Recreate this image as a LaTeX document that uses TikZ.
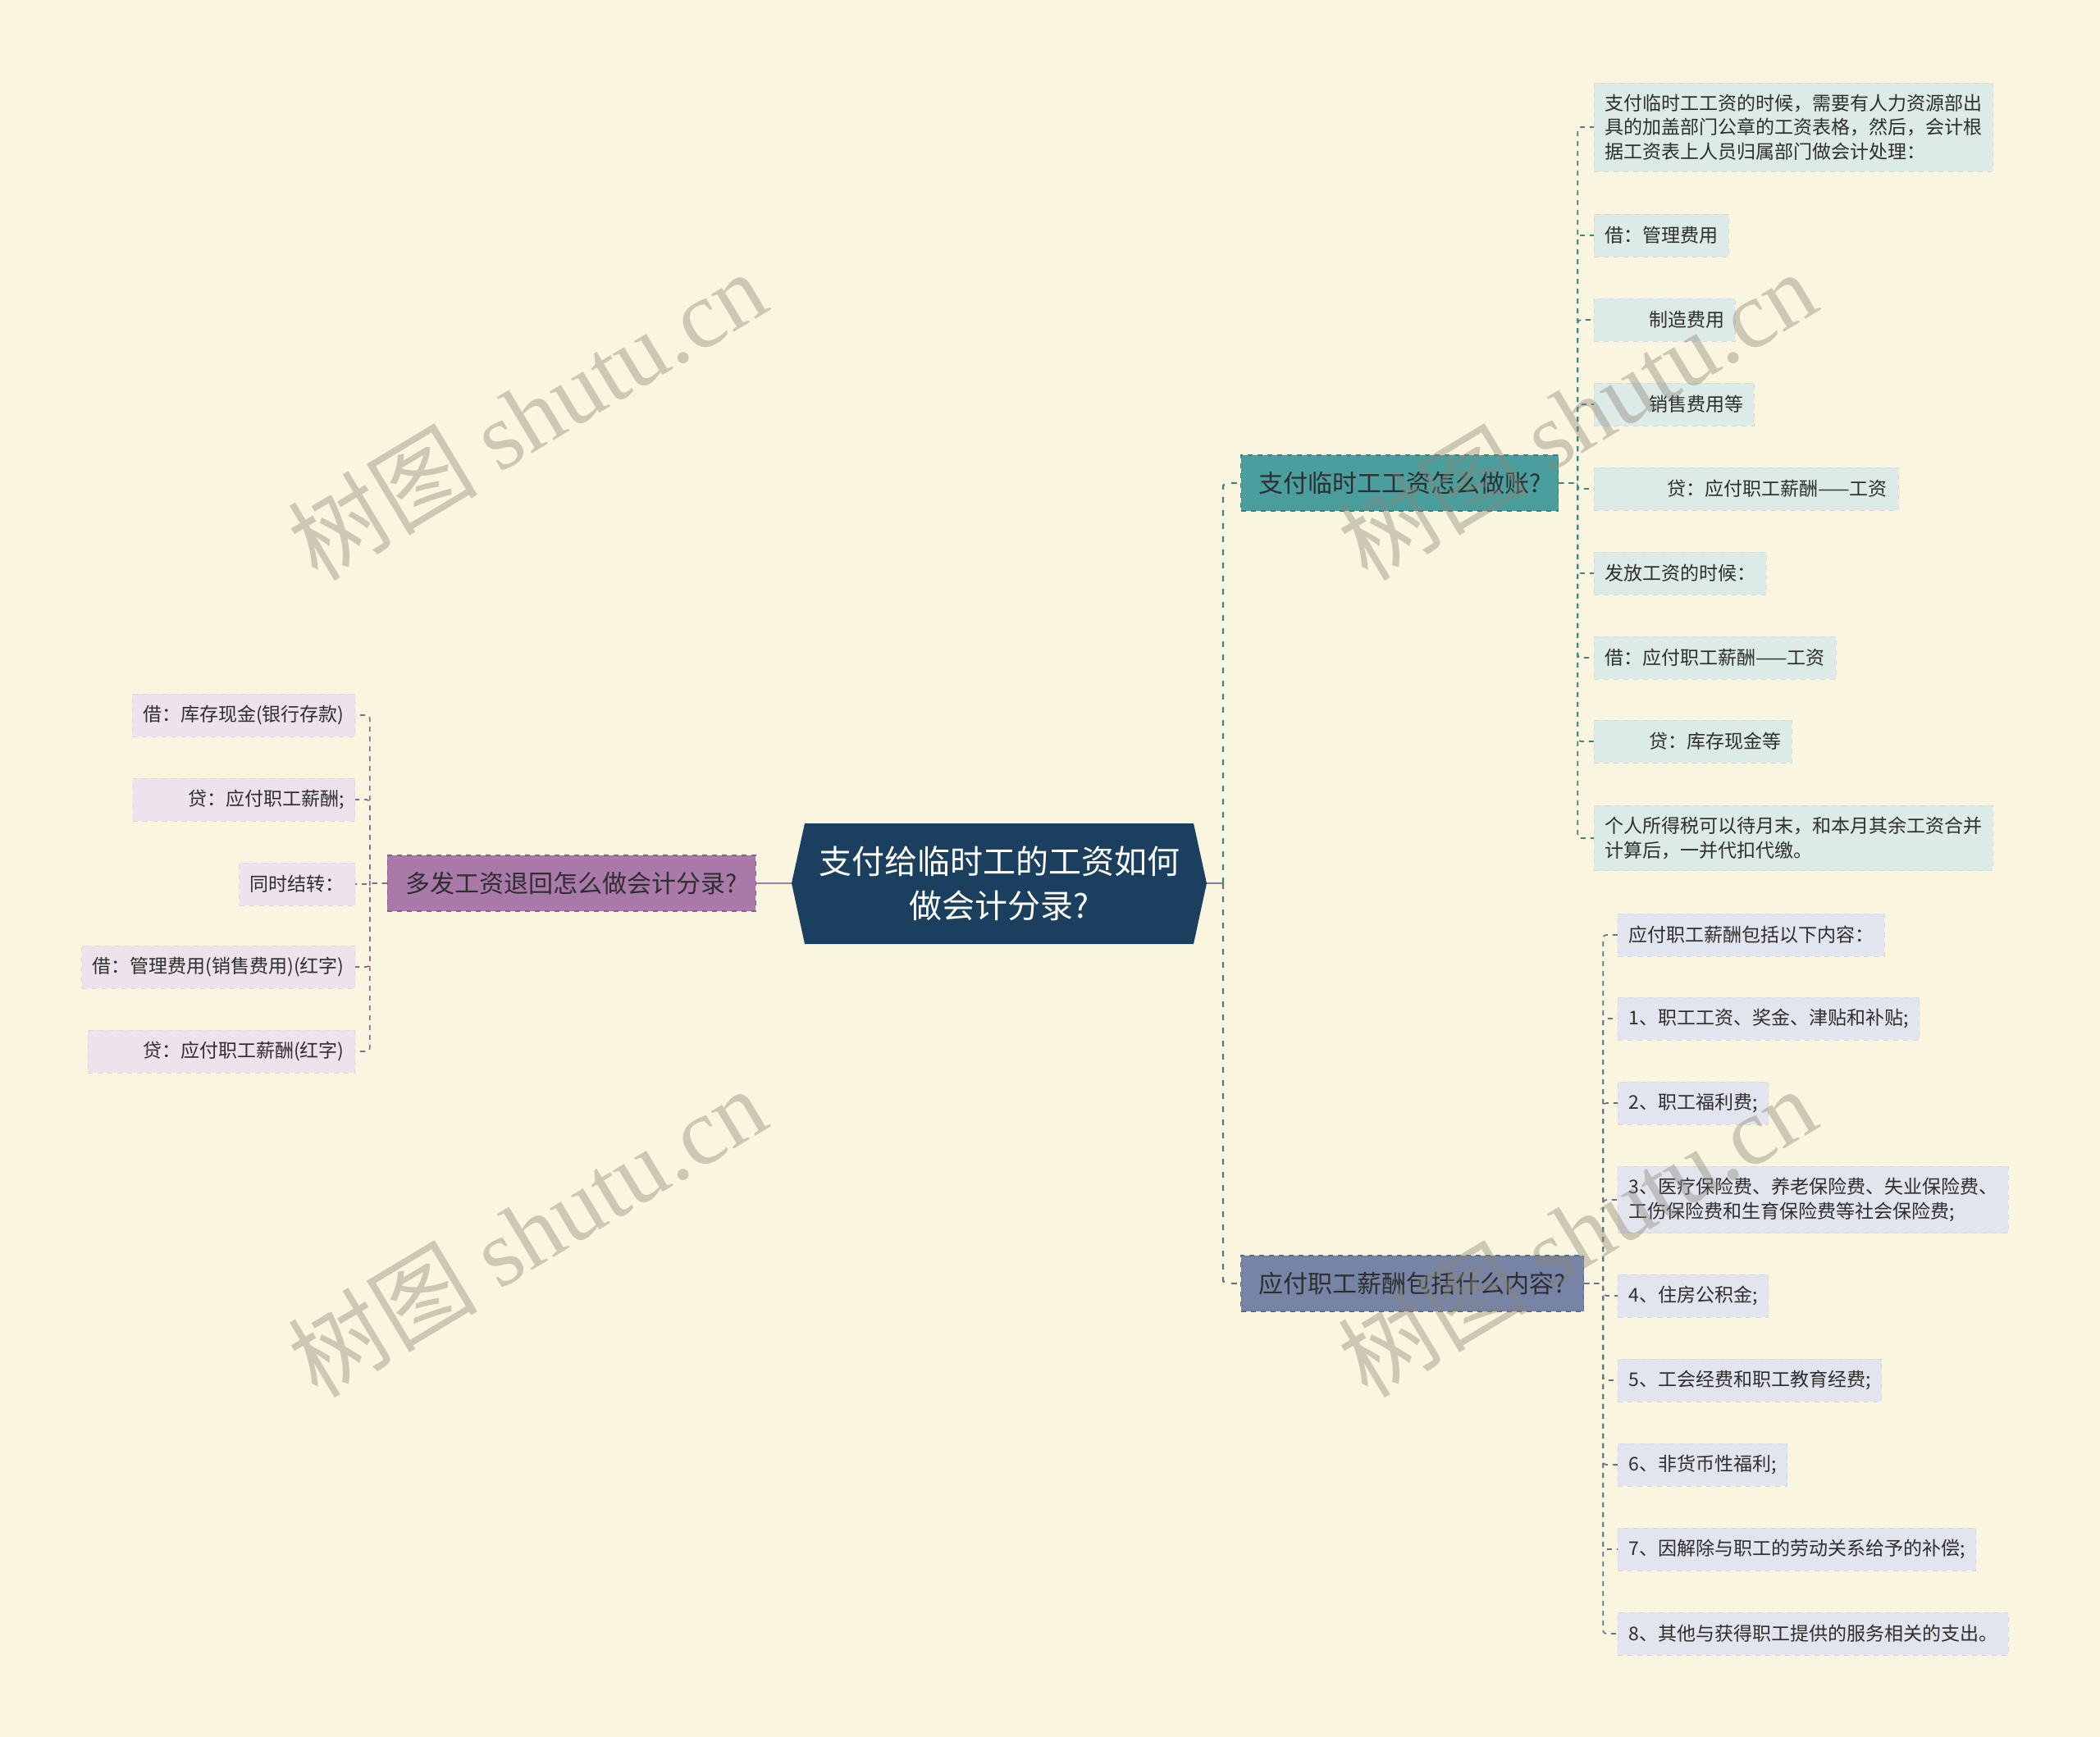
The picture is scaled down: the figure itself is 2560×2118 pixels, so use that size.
\documentclass[tikz,border=0pt]{standalone}
\usepackage{fontspec}
\setmainfont{Noto Sans CJK SC}
\newfontfamily\markfont{Liberation Serif}
\usetikzlibrary{positioning}

\definecolor{bgcream}{HTML}{FAF5DF}
\definecolor{rootnavy}{HTML}{1B3F5E}
\definecolor{inkgray}{HTML}{2E2E2E}
\definecolor{payfill}{HTML}{4A9E9E}
\definecolor{paydark}{HTML}{3E8484}
\definecolor{payleaf}{HTML}{DCEAE8}
\definecolor{salfill}{HTML}{7784A6}
\definecolor{saldark}{HTML}{66708F}
\definecolor{salleaf}{HTML}{E2E5EE}
\definecolor{refill}{HTML}{A979AA}
\definecolor{redark}{HTML}{8F6290}
\definecolor{releaf}{HTML}{EEE3EC}
\definecolor{markgray}{HTML}{8A8574}

\begin{document}
\begin{tikzpicture}[x=0.5pt, y=-0.5pt,
  every node/.style={font=\fontsize{11.5pt}{14.7pt}\selectfont, text=inkgray},
  roottext/.style={font=\fontsize{20pt}{27pt}\selectfont, text=white, align=center},
  branchbox/.style={fill=#1, draw=#1!80!black, dashed, line width=0.6pt,
    font=\fontsize{15pt}{18pt}\selectfont, inner xsep=7pt, minimum height=34pt},
  leafbox/.style={fill=#1, draw=#1!94!black, dashed, line width=0.4pt,
    inner xsep=6.5pt, inner ysep=7pt, minimum height=26pt, align=left},
  link/.style={draw=#1, line width=0.8pt, dash pattern=on 3pt off 3pt, rounded corners=2pt},
  trunk/.style={draw=#1, line width=1.2pt, dash pattern=on 3.5pt off 4.5pt, rounded corners=2pt},
  watermark/.style={font=\fontsize{58pt}{58pt}\selectfont, text=markgray, text opacity=0.4, rotate=31}]

  % background
  \fill[bgcream] (0,0) rectangle (2560,2118);

  % central topic
  \fill[rootnavy] (965,1077) -- (981,1004) -- (1455,1004) -- (1471,1077) -- (1455,1151) -- (981,1151) -- cycle;
  \node[roottext] (root) at (1218,1077) {支付给临时工的工资如何\\做会计分录?};
  \coordinate (root-w) at (965,1077);
  \coordinate (root-e) at (1471,1077);
  \coordinate (hub) at (1491,1077);

  % main topics
  \node[branchbox=payfill, minimum width=193.5pt, anchor=west] (pay) at (1512,589) {支付临时工工资怎么做账?};
  \node[branchbox=salfill, minimum width=209pt, anchor=west] (sal) at (1512,1565) {应付职工薪酬包括什么内容?};
  \node[branchbox=refill, minimum width=224.5pt, anchor=east] (ret) at (922,1077) {多发工资退回怎么做会计分录?};

  % leaves of pay
  \node[leafbox=payleaf, anchor=west] (p1) at (1943,155) {支付临时工工资的时候，需要有人力资源部出\\具的加盖部门公章的工资表格，然后，会计根\\据工资表上人员归属部门做会计处理：};
  \node[leafbox=payleaf, anchor=west] (p2) at (1943,287) {借：管理费用};
  \node[leafbox=payleaf, anchor=west] (p3) at (1943,390) {\hspace*{27pt}制造费用};
  \node[leafbox=payleaf, anchor=west] (p4) at (1943,493) {\hspace*{27pt}销售费用等};
  \node[leafbox=payleaf, anchor=west] (p5) at (1943,596) {\hspace*{38pt}贷：应付职工薪酬——工资};
  \node[leafbox=payleaf, anchor=west] (p6) at (1943,699) {发放工资的时候：};
  \node[leafbox=payleaf, anchor=west] (p7) at (1943,802) {借：应付职工薪酬——工资};
  \node[leafbox=payleaf, anchor=west] (p8) at (1943,904) {\hspace*{27pt}贷：库存现金等};
  \node[leafbox=payleaf, anchor=west] (p9) at (1943,1022) {个人所得税可以待月末，和本月其余工资合并\\计算后，一并代扣代缴。};

  % leaves of sal
  \node[leafbox=salleaf, anchor=west] (s1) at (1972,1140) {应付职工薪酬包括以下内容：};
  \node[leafbox=salleaf, anchor=west] (s2) at (1972,1242) {1、职工工资、奖金、津贴和补贴;};
  \node[leafbox=salleaf, anchor=west] (s3) at (1972,1345) {2、职工福利费;};
  \node[leafbox=salleaf, anchor=west] (s4) at (1972,1463) {3、医疗保险费、养老保险费、失业保险费、\\工伤保险费和生育保险费等社会保险费;};
  \node[leafbox=salleaf, anchor=west] (s5) at (1972,1580) {4、住房公积金;};
  \node[leafbox=salleaf, anchor=west] (s6) at (1972,1683) {5、工会经费和职工教育经费;};
  \node[leafbox=salleaf, anchor=west] (s7) at (1972,1786) {6、非货币性福利;};
  \node[leafbox=salleaf, anchor=west] (s8) at (1972,1889) {7、因解除与职工的劳动关系给予的补偿;};
  \node[leafbox=salleaf, anchor=west] (s9) at (1972,1992) {8、其他与获得职工提供的服务相关的支出。};

  % leaves of ret
  \node[leafbox=releaf, anchor=east] (r1) at (433,872) {借：库存现金(银行存款)};
  \node[leafbox=releaf, anchor=east] (r2) at (433,975) {\hspace*{27pt}贷：应付职工薪酬;};
  \node[leafbox=releaf, anchor=east] (r3) at (433,1078) {同时结转：};
  \node[leafbox=releaf, anchor=east] (r4) at (433,1179) {借：管理费用(销售费用)(红字)};
  \node[leafbox=releaf, anchor=east] (r5) at (433,1282) {\hspace*{27pt}贷：应付职工薪酬(红字)};

  % connectors
  \draw[salfill, line width=1.2pt] (root-e) -- (hub);
  \draw[refill, line width=1.2pt] (root-w) -- (ret.east);
  \draw[trunk=paydark] (hub) |- (pay.west);
  \draw[trunk=saldark] (hub) |- (sal.west);
  \foreach \c in {p1,p2,p3,p4,p5,p6,p7,p8,p9}
    \draw[link=paydark] (pay.east) -- ++(23,0) |- (\c.west);
  \foreach \c in {s1,s2,s3,s4,s5,s6,s7,s8,s9}
    \draw[link=saldark] (sal.east) -- ++(23,0) |- (\c.west);
  \foreach \c in {r1,r2,r3,r4,r5}
    \draw[link=redark] (ret.west) -- ++(-21,0) |- (\c.east);

  % watermarks
  \foreach \p [count=\i] in {(642,506),(1922,506),(642,1502),(1922,1502)}
    \node[watermark] (mark\i) at \p {树图 {\markfont shutu.cn}};
\end{tikzpicture}
\end{document}
